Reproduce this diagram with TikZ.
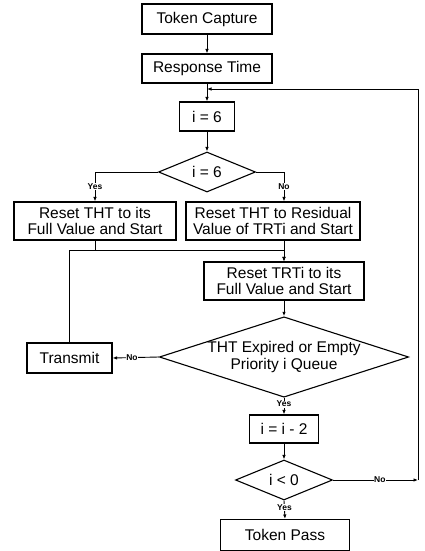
\documentclass[tikz,border=0pt]{standalone}
\usepackage{fontspec}
\setmainfont{Liberation Sans}
\usetikzlibrary{shapes.geometric, arrows.meta}

\begin{document}
\begin{tikzpicture}[x=1pt, y=-1pt,
    box/.style={rectangle, draw, line width=1.1pt, inner sep=0pt, align=center, font=\fontsize{15.5}{16.5}\selectfont},
    decision/.style={diamond, draw, line width=1.1pt, inner sep=0pt, align=center, font=\fontsize{15.5}{16.5}\selectfont},
    flow/.style={line width=0.9pt, -{Latex[length=4.5pt, width=3.5pt]}},
    lbl/.style={fill=white, inner sep=0.5pt, font=\fontsize{8.5}{8.5}\selectfont\bfseries}]
    \useasboundingbox (0,0) rectangle (425,551);
    % Token handling
    \node[box, minimum width=130, minimum height=30] (capture) at (207,19) {Token Capture};
    \node[box, minimum width=130, minimum height=29] (resp) at (207,68.5) {Response Time};
    \node[box, minimum width=55, minimum height=29] (init) at (207,116.5) {i = 6};
    \node[decision, minimum width=97, minimum height=40, aspect=2.4] (d1) at (207,172) {i = 6};
    \node[box, minimum width=162, minimum height=38] (full) at (95,221) {Reset THT to its\\Full Value and Start};
    \node[box, minimum width=174, minimum height=38] (resid) at (273,221) {Reset THT to Residual\\Value of TRTi and Start};
    \coordinate (merge) at (284,250);
    \node[box, minimum width=160, minimum height=38] (trti) at (284,281) {Reset TRTi to its\\Full Value and Start};
    \node[decision, minimum width=244, minimum height=77, aspect=3.1] (q) at (284,357) {THT Expired or Empty\\Priority i Queue};
    \node[box, minimum width=85, minimum height=30] (tx) at (69.5,358) {Transmit};
    \node[box, minimum width=69, minimum height=28] (dec) at (284,429) {i = i - 2};
    \node[decision, minimum width=97, minimum height=40, aspect=2.4] (lt) at (284,480) {i < 0};
    \node[box, minimum width=129, minimum height=31] (pass) at (285,535) {Token Pass};
    \coordinate (corner) at (418,480);
    \coordinate (ret) at (418,89);

    \draw[flow] (capture) -- (resp);
    \draw[flow] (resp) -- (init);
    \draw[flow] (init) -- (d1);
    \draw[flow] (d1.west) -| node[lbl, pos=0.75] {Yes} (full.north);
    \draw[flow] (d1.east) -| node[lbl, pos=0.75] {No} (resid.north -| trti.north);
    \draw[line width=0.9pt] (full.south) -- (full.south |- merge);
    \draw[flow] (resid.south -| trti.north) -- (trti.north);
    \draw[flow] (tx.north) |- (merge) -- (trti.north);
    \draw[flow] (trti) -- (q);
    \draw[flow] (q.west) -- node[lbl, pos=0.58] {No} (tx.east);
    \draw[flow] (q.south) -- node[lbl, pos=0.38] {Yes} (dec.north);
    \draw[flow] (dec) -- (lt);
    \draw[flow] (lt.south) -- node[lbl, pos=0.4] {Yes} (pass.north);
    \draw[flow] (lt.east) -- node[lbl, pos=0.55] {No} (corner);
    \draw[flow] (corner) -- (ret) -- (ret -| init.north);
\end{tikzpicture}
\end{document}
